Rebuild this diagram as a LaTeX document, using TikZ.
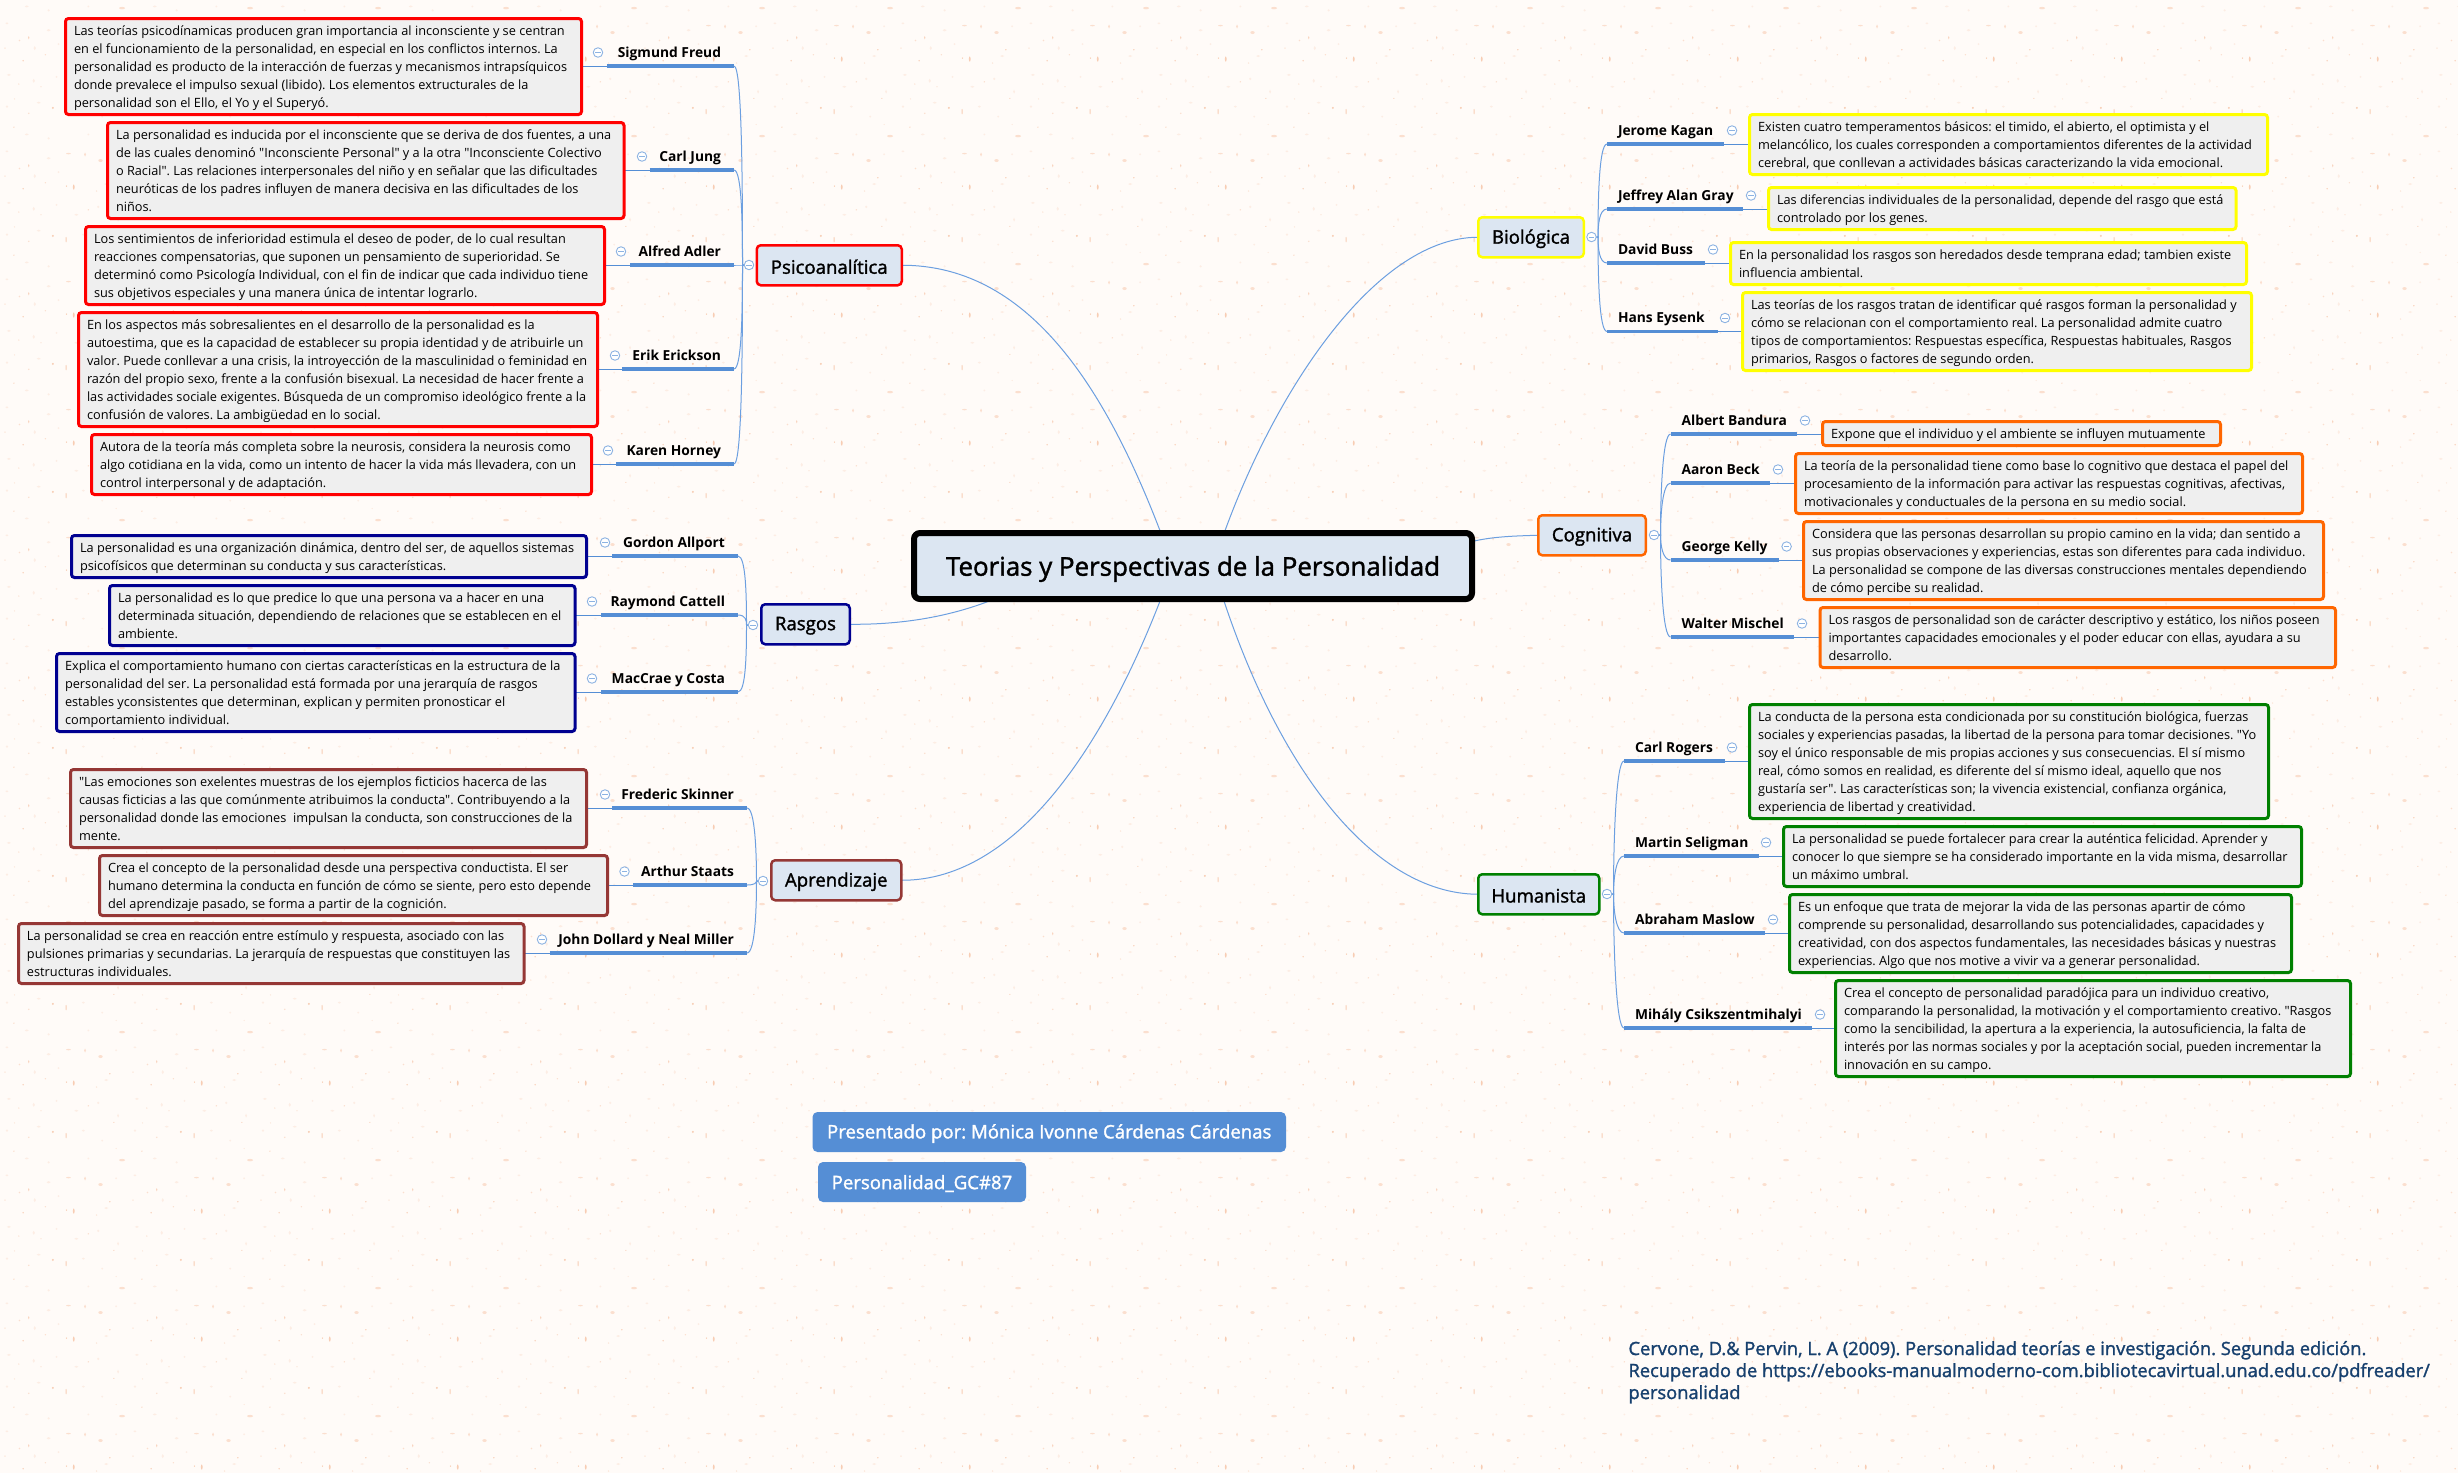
\documentclass[tikz,border=0pt]{standalone}
\usepackage{fontspec}
\setmainfont[Ligatures=TeXOff]{Open Sans}
\newfontfamily\semifont[FakeBold=1.5,Ligatures=TeXOff]{Open Sans}
\usetikzlibrary{calc,patterns}
\pgfdeclarelayer{paper}
\pgfdeclarelayer{conn}
\pgfsetlayers{paper,conn,main}
\definecolor{paperc}{HTML}{FFFBF8}
\definecolor{speck}{HTML}{FBDFCF}
\definecolor{speckb}{HTML}{F8CDB4}
\definecolor{speckc}{HTML}{FDEDE4}
\definecolor{linec}{HTML}{558ED5}
\definecolor{curvec}{HTML}{6C9FE0}
\definecolor{nodefill}{HTML}{DCE6F2}
\definecolor{boxfill}{HTML}{EFEFEF}
\definecolor{cred}{HTML}{FF0000}
\definecolor{cnavy}{HTML}{000090}
\definecolor{cbrown}{HTML}{953735}
\definecolor{cyellow}{HTML}{FFFF00}
\definecolor{corange}{HTML}{FF6600}
\definecolor{cgreen}{HTML}{008000}
\definecolor{citeblue}{HTML}{17406E}
\definecolor{iconc}{HTML}{8DB3E2}
\newcommand{\spk}[4]{\pgfpathellipse{\pgfpoint{#1pt}{128pt-#2pt}}{\pgfpoint{#3pt}{0pt}}{\pgfpoint{0pt}{#4pt}}}
\pgfdeclarepatterninherentlycolored{paperspecks}{\pgfpointorigin}{\pgfqpoint{128pt}{128pt}}{\pgfqpoint{128pt}{128pt}}{%
  \pgfsetfillcolor{speckc}%
  \spk{10}{8}{2}{1}\spk{35}{14}{1.2}{2}\spk{58}{10}{1}{1}\spk{78}{20}{2}{1}\spk{100}{12}{1.2}{1.2}\spk{120}{25}{1}{2}%
  \spk{8}{40}{1.2}{1.2}\spk{40}{36}{2}{1}\spk{85}{40}{1.5}{1}\spk{104}{50}{1}{1}\spk{28}{68}{2}{1}\spk{50}{72}{1.2}{1.2}%
  \spk{90}{68}{1}{1}\spk{8}{85}{1.5}{1}\spk{50}{92}{2}{1.2}\spk{118}{88}{1}{1}\spk{36}{110}{1.2}{2}\spk{60}{106}{1}{1}\spk{108}{118}{2}{1}%
  \pgfusepath{fill}%
  \pgfsetfillcolor{speck}%
  \spk{124}{69.7}{3}{1.2}\spk{102.3}{94.3}{2.2}{1.5}\spk{20}{17.3}{.7}{.7}\spk{42.3}{20}{.6}{.6}\spk{15.7}{32.3}{.6}{.6}\spk{30}{46.7}{.8}{.8}%
  \spk{15}{60.7}{.8}{.8}\spk{70}{87.3}{2.4}{.7}\spk{86.7}{88.3}{1}{2}\spk{20.7}{102.3}{.9}{.9}\spk{46.7}{116.7}{.7}{.7}\spk{98.3}{125}{.7}{.7}%
  \spk{6}{110}{.7}{.7}\spk{90}{15}{.8}{.8}\spk{118}{58}{.6}{.6}%
  \pgfusepath{fill}%
  \pgfsetfillcolor{speckb}%
  \spk{54.3}{41.3}{1.1}{1.1}\spk{115.7}{31.7}{.6}{.6}\spk{111.7}{111.7}{.8}{.8}\spk{24.3}{122.7}{.8}{.8}\spk{68}{120}{.7}{.7}%
  \spk{75.3}{121}{.9}{2.6}\spk{67.6}{45}{.6}{2.8}\spk{30}{99.5}{.6}{1.6}%
  \pgfusepath{fill}%
}
\tikzset{
  descbox/.style={draw=#1,fill=boxfill,line width=3pt,rounded corners=3pt,inner sep=0pt,outer sep=0pt,anchor=north west,
     font=\fontsize{12.75}{18}\selectfont},
  topic/.style={draw=#1,fill=nodefill,line width=2.5pt,rounded corners=4pt,inner sep=0pt,outer sep=0pt,anchor=north west,
     font=\semifont\fontsize{18.6}{20}\selectfont},
  person/.style={inner sep=0pt,outer sep=0pt,font=\bfseries\fontsize{13.8}{15}\selectfont},
  collapse/.style={circle,draw=iconc,fill=white,line width=0.9pt,minimum size=9.5pt,inner sep=0pt,outer sep=0pt,
     path picture={\draw[iconc,line width=0.9pt] ($(path picture bounding box.center)+(-2.6pt,0)$) -- ($(path picture bounding box.center)+(2.6pt,0)$);}},
  thickline/.style={linec,line width=3.2pt},
  thinline/.style={linec,line width=1pt},
  curve/.style={curvec,line width=1pt},
  pill/.style={fill=linec,rounded corners=5pt,inner sep=0pt,outer sep=0pt,anchor=north west,text=white,
     font=\semifont\frenchspacing\fontsize{18.6}{20}\selectfont},
}
\newcommand{\shiftdown}[2]{\raisebox{-#1}[\height][\depth]{#2}}
% box: name, x1, y1, x2, y2, colour, lines
\newcommand{\dbox}[7]{%
  \pgfmathsetmacro{\bw}{#4-#2-3}\pgfmathsetmacro{\bh}{#5-#3-3}\pgfmathsetmacro{\tw}{#4-#2-20}%
  \node[descbox=#6,minimum width=\bw pt,minimum height=\bh pt] (#1) at ({#2+1.5},{#3+1.5})
    {\shiftdown{1pt}{\makebox[\tw pt][l]{\frenchspacing\begin{tabular}{@{}l@{}}#7\end{tabular}}}};}
% topic: name, x1, y1, x2, y2, colour, text
\newcommand{\topicbox}[7]{%
  \pgfmathsetmacro{\bw}{#4-#2-2.5}\pgfmathsetmacro{\bh}{#5-#3-2.5}%
  \node[topic=#6,minimum width=\bw pt,minimum height=\bh pt] (#1) at ({#2+1.25},{#3+1.25}) {\shiftdown{1.5pt}{#7}};}
% left person: name, parent icon, label, y, thick start, thick end, icon x
\newcommand{\leftperson}[7]{%
  \coordinate (#1S) at (#5,#4); \coordinate (#1E) at (#6,#4);
  \node[person,anchor=base east] (#1L) at ({#6-13},{#4-9}) {#3};
  \node[collapse] (#1I) at (#7,{#4-13.5}) {};
  \begin{pgfonlayer}{conn}
    \draw[thinline] (#1box.east |- #1S) -- (#1S);
    \draw[thickline] (#1S) -- (#1E);
    \draw[curve] let \p1=(#1E),\p2=(#2) in (\p1) .. controls (\x1+8pt,\y1) and (\x2-6.5pt,{\y1+0.6*(\y2-\y1)}) .. (\x2-6.5pt,\y2) -- (#2);
  \end{pgfonlayer}}
% right person: name, parent icon, label, y, thick start, thick end, icon x
\newcommand{\rightperson}[7]{%
  \coordinate (#1S) at (#5,#4); \coordinate (#1E) at (#6,#4);
  \node[person,anchor=base west] (#1L) at ({#5+11},{#4-9}) {#3};
  \node[collapse] (#1I) at (#7,{#4-13.5}) {};
  \begin{pgfonlayer}{conn}
    \draw[thinline] (#1E) -- (#1box.west |- #1E);
    \draw[thickline] (#1S) -- (#1E);
    \draw[curve] let \p1=(#1S),\p2=(#2) in (\p1) .. controls (\x1-8pt,\y1) and (\x2+6.5pt,{\y1+0.6*(\y2-\y1)}) .. (\x2+6.5pt,\y2) -- (#2);
  \end{pgfonlayer}}
\begin{document}
\begin{tikzpicture}[x=1pt,y=-1pt]
\useasboundingbox (0,0) rectangle (2458,1473);
\begin{pgfonlayer}{paper}
  \fill[paperc] (0,0) rectangle (2458,1473);
  \fill[pattern=paperspecks] (0,0) rectangle (2458,1473);
\end{pgfonlayer}

% root
\node[draw=black,fill=nodefill,line width=6pt,rounded corners=6pt,inner sep=0pt,outer sep=0pt,anchor=north west,
      minimum width=558pt,minimum height=66pt,font=\semifont\fontsize{25.9}{28}\selectfont]
      (root) at (914,533) {\shiftdown{3pt}{Teorias y Perspectivas de la Personalidad}};

% topics
\topicbox{psi}{755.5}{244}{903}{286.5}{cred}{Psicoanalítica}
\topicbox{ras}{760}{603}{851}{645.5}{cnavy}{Rasgos}
\topicbox{apr}{770}{859}{902.5}{901.5}{cbrown}{Aprendizaje}
\topicbox{bio}{1477}{216}{1585}{258.5}{cyellow}{Biológica}
\topicbox{cog}{1537}{514}{1647}{556.5}{corange}{Cognitiva}
\topicbox{hum}{1477}{873}{1600.5}{915.5}{cgreen}{Humanista}

\node[collapse] (psiI) at (749,265) {};
\node[collapse] (rasI) at (753,625) {};
\node[collapse] (aprI) at (763,881) {};
\node[collapse] (bioI) at (1591.5,237) {};
\node[collapse] (cogI) at (1654,535) {};
\node[collapse] (humI) at (1607,894) {};

% main connectors
\coordinate (rootL) at (1173,566);
\coordinate (rootR) at (1213,566);
\coordinate (rootC) at (1470,542);
\coordinate (rootD) at (1030,582);
\begin{pgfonlayer}{conn}
  \draw[curve] (psi.east) .. controls (1033,265) and (1113,396) .. (rootL);
  \draw[curve] (apr.east) .. controls (1020,881) and (1113,736) .. (rootL);
  \draw[curve] (hum.west) .. controls (1370,894) and (1270,760) .. (rootR);
  \draw[curve] (bio.west) .. controls (1370,237) and (1262,410) .. (rootR);
  \draw[curve] (cog.west) .. controls (1510,536) and (1490,537) .. (rootC);
  \draw[curve] (ras.east) .. controls (920,625) and (980,610) .. (rootD);
\end{pgfonlayer}

% Psicoanalitica
\dbox{freudbox}{64}{17}{583}{116}{cred}{Las teorías psicodínamicas producen gran importancia al inconsciente y se centran\\en el funcionamiento de la personalidad, en especial en los conflictos internos. La\\personalidad es producto de la interacción de fuerzas y mecanismos intrapsíquicos\\donde prevalece el impulso sexual (libido). Los elementos extructurales de la\\personalidad son el Ello, el Yo y el Superyó.}
\leftperson{freud}{psiI}{Sigmund Freud}{66}{607}{734}{598}
\dbox{jungbox}{106}{121}{625.5}{220}{cred}{La personalidad es inducida por el inconsciente que se deriva de dos fuentes, a una\\de las cuales denominó "Inconsciente Personal" y a la otra "Inconsciente Colectivo\\o Racial". Las relaciones interpersonales del niño y en señalar que las dificultades\\neuróticas de los padres influyen de manera decisiva en las dificultades de los\\niños.}
\leftperson{jung}{psiI}{Carl Jung}{170}{649.5}{734}{642}
\dbox{adlerbox}{84}{225}{606}{306}{cred}{Los sentimientos de inferioridad estimula el deseo de poder, de lo cual resultan\\reacciones compensatorias, que suponen un pensamiento de superioridad. Se\\determinó como Psicología Individual, con el fin de indicar que cada individuo tiene\\sus objetivos especiales y una manera única de intentar lograrlo.}
\leftperson{adler}{psiI}{Alfred Adler}{265}{630}{734}{621}
\dbox{eribox}{77}{311}{599}{428}{cred}{En los aspectos más sobresalientes en el desarrollo de la personalidad es la\\autoestima, que es la capacidad de establecer su propia identidad y de atribuirle un\\valor. Puede conllevar a una crisis, la introyección de la masculinidad o feminidad en\\razón del propio sexo, frente a la confusión bisexual. La necesidad de hacer frente a\\las actividades sociale exigentes. Búsqueda de un compromiso ideológico frente a la\\confusión de valores. La ambigüedad en lo social.}
\leftperson{eri}{psiI}{Erik Erickson}{369}{622}{734}{615}
\dbox{horbox}{90}{433}{593}{496}{cred}{Autora de la teoría más completa sobre la neurosis, considera la neurosis como\\algo cotidiana en la vida, como un intento de hacer la vida más llevadera, con un\\control interpersonal y de adaptación.}
\leftperson{hor}{psiI}{Karen Horney}{464}{616}{734}{608}

% Rasgos
\dbox{allbox}{70}{534}{588}{579}{cnavy}{La personalidad es una organización dinámica, dentro del ser, de aquellos sistemas\\psicofísicos que determinan su conducta y sus características.}
\leftperson{all}{rasI}{Gordon Allport}{556}{612}{738}{605}
\dbox{catbox}{108}{584}{576.5}{647}{cnavy}{La personalidad es lo que predice lo que una persona va a hacer en una\\determinada situación, dependiendo de relaciones que se establecen en el\\ambiente.}
\leftperson{cat}{rasI}{Raymond Cattell}{615}{601}{738}{592}
\dbox{macbox}{55}{652}{576.5}{733}{cnavy}{Explica el comportamiento humano con ciertas características en la estructura de la\\personalidad del ser. La personalidad está formada por una jerarquía de rasgos\\estables yconsistentes que determinan, explican y permiten pronosticar el\\comportamiento individual.}
\leftperson{mac}{rasI}{MacCrae y Costa}{692}{601}{738}{592}

% Aprendizaje
\dbox{skibox}{69}{768}{588}{849}{cbrown}{"Las emociones son exelentes muestras de los ejemplos ficticios hacerca de las\\causas ficticias a las que comúnmente atribuimos la conducta". Contribuyendo a la\\personalidad donde las emociones~ impulsan la conducta, son construcciones de la\\mente.}
\leftperson{ski}{aprI}{Frederic Skinner}{808}{612}{747}{605}
\dbox{stabox}{98}{854}{609}{917}{cbrown}{Crea el concepto de la personalidad desde una perspectiva conductista. El ser\\humano determina la conducta en función de cómo se siente, pero esto depende\\del aprendizaje pasado, se forma a partir de la cognición.}
\leftperson{sta}{aprI}{Arthur Staats}{885}{633}{747}{624.5}
\dbox{dolbox}{17}{922}{525.5}{985}{cbrown}{La personalidad se crea en reacción entre estímulo y respuesta, asociado con las\\pulsiones primarias y secundarias. La jerarquía de respuestas que constituyen las\\estructuras individuales.}
\leftperson{dol}{aprI}{John Dollard y Neal Miller}{953}{549.5}{747}{542}

% Biologica
\dbox{kagbox}{1748}{113}{2269}{176}{cyellow}{Existen cuatro temperamentos básicos: el timido, el abierto, el optimista y el\\melancólico, los cuales corresponden a comportamientos diferentes de la actividad\\cerebral, que conllevan a actividades básicas caracterizando la vida emocional.}
\rightperson{kag}{bioI}{Jerome Kagan}{144}{1607}{1724}{1732}
\dbox{graybox}{1767}{186}{2237.5}{231}{cyellow}{Las diferencias individuales de la personalidad, depende del rasgo que está\\controlado por los genes.}
\rightperson{gray}{bioI}{Jeffrey Alan Gray}{209}{1607}{1743}{1751}
\dbox{busbox}{1729}{241}{2248}{286}{cyellow}{En la personalidad los rasgos son heredados desde temprana edad; tambien existe\\influencia ambiental.}
\rightperson{bus}{bioI}{David Buss}{263}{1607}{1705}{1713}
\dbox{eysbox}{1741}{291}{2253}{372}{cyellow}{Las teorías de los rasgos tratan de identificar qué rasgos forman la personalidad y\\cómo se relacionan con el comportamiento real. La personalidad admite cuatro\\tipos de comportamientos: Respuestas específica, Respuestas habituales, Rasgos\\primarios, Rasgos o factores de segundo orden.}
\rightperson{eys}{bioI}{Hans Eysenk}{331.5}{1607}{1718}{1725}

% Cognitiva
\dbox{banbox}{1821}{420}{2222}{447}{corange}{Expone que el individuo y el ambiente se influyen mutuamente}
\rightperson{ban}{cogI}{Albert Bandura}{434}{1670.6}{1797}{1805}
\dbox{becbox}{1794}{452}{2304}{515}{corange}{La teoría de la personalidad tiene como base lo cognitivo que destaca el papel del\\procesamiento de la información para activar las respuestas cognitivas, afectivas,\\motivacionales y conductuales de la persona en su medio social.}
\rightperson{bec}{cogI}{Aaron Beck}{483}{1670.6}{1770}{1778}
\dbox{kelbox}{1802}{520}{2325}{601}{corange}{Considera que las personas desarrollan su propio camino en la vida; dan sentido a\\sus propias observaciones y experiencias, estas son diferentes para cada individuo.\\La personalidad se compone de las diversas construcciones mentales dependiendo\\de cómo percibe su realidad.}
\rightperson{kel}{cogI}{George Kelly}{560}{1670.6}{1778.5}{1786.6}
\dbox{misbox}{1818.5}{606}{2337}{669}{corange}{Los rasgos de personalidad son de carácter descriptivo y estático, los niños poseen\\importantes capacidades emocionales y el poder educar con ellas, ayudara a su\\desarrollo.}
\rightperson{mis}{cogI}{Walter Mischel}{637}{1670.6}{1794}{1802}

% Humanista
\dbox{robox}{1748}{703}{2270}{820}{cgreen}{La conducta de la persona esta condicionada por su constitución biológica, fuerzas\\sociales y experiencias pasadas, la libertad de la persona para tomar decisiones. "Yo\\soy el único responsable de mis propias acciones y sus consecuencias. El sí mismo\\real, cómo somos en realidad, es diferente del sí mismo ideal, aquello que nos\\gustaría ser". Las características son; la vivencia existencial, confianza orgánica,\\experiencia de libertad y creatividad.}
\rightperson{ro}{humI}{Carl Rogers}{761}{1624}{1725}{1732}
\dbox{selbox}{1782}{825}{2303}{888}{cgreen}{La personalidad se puede fortalecer para crear la auténtica felicidad. Aprender y\\conocer lo que siempre se ha considerado importante en la vida misma, desarrollar\\un máximo umbral.}
\rightperson{sel}{humI}{Martin Seligman}{856}{1624}{1759}{1766}
\dbox{masbox}{1788}{893}{2293}{974}{cgreen}{Es un enfoque que trata de mejorar la vida de las personas apartir de cómo\\comprende su personalidad, desarrollando sus potencialidades, capacidades y\\creatividad, con dos aspectos fundamentales, las necesidades básicas y nuestras\\experiencias. Algo que nos motive a vivir va a generar personalidad.}
\rightperson{mas}{humI}{Abraham Maslow}{933}{1624}{1764.5}{1773}
\dbox{csibox}{1834}{979}{2352}{1078}{cgreen}{Crea el concepto de personalidad paradójica para un individuo creativo,\\comparando la personalidad, la motivación y el comportamiento creativo. "Rasgos\\como la sencibilidad, la apertura a la experiencia, la autosuficiencia, la falta de\\interés por las normas sociales y por la aceptación social, pueden incrementar la\\innovación en su campo.}
\rightperson{csi}{humI}{Mihály Csikszentmihalyi}{1028}{1624}{1811.5}{1820}

% pills and citation
\node[pill,minimum width=473.5pt,minimum height=40pt] (pres) at (812.5,1112) {\shiftdown{1.5pt}{Presentado por: Mónica Ivonne Cárdenas Cárdenas}};
\node[pill,minimum width=208pt,minimum height=40pt] (gc) at (818,1162) {\shiftdown{1.5pt}{Personalidad\_GC\#87}};
\node[inner sep=0pt,outer sep=0pt,anchor=north west,text=citeblue,align=left,font=\semifont\frenchspacing\fontsize{18.3}{22}\selectfont] (cite) at (1628.5,1341)
  {Cervone, D.\& Pervin, L. A (2009). Personalidad teorías e investigación. Segunda edición.\\Recuperado de https://ebooks-manualmoderno-com.bibliotecavirtual.unad.edu.co/pdfreader/\\personalidad};
\end{tikzpicture}
\end{document}
